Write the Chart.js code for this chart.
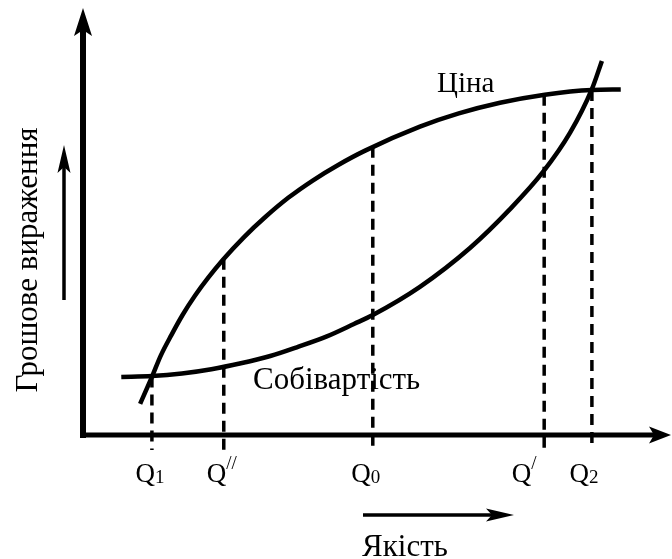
<!DOCTYPE html>
<html>
<head>
<meta charset="utf-8">
<script src="https://cdn.jsdelivr.net/npm/chart.js@4.4.1/dist/chart.umd.min.js"></script>
<style>
  html, body { margin: 0; padding: 0; background: #fff; }
  #wrap { width: 672px; height: 559px; position: relative; }
</style>
</head>
<body>
<div id="wrap"><canvas id="chart"></canvas></div>
<script>
// крива ціни (якість -> грошове вираження)
const priceX = [9.7, 11.7, 13.2, 15.0, 16.9, 19.0, 21.3, 23.8, 27.3, 31.0, 34.9, 39.0, 43.4, 47.9, 57.2, 63.8, 70.8, 78.4, 86.4, 91.3];
const priceY = [7.3, 13.6, 18.6, 23.4, 28.1, 32.6, 36.9, 41.1, 46.3, 51.1, 55.6, 59.6, 63.3, 66.6, 72.2, 75.3, 77.8, 79.7, 80.8, 80.9];

// крива собівартості
const costX = [6.5, 11.7, 16.8, 21.8, 26.8, 31.8, 36.6, 41.4, 46.0, 49.2, 57.2, 65.7, 72.5, 78.1, 82.7, 86.4, 88.1];
const costY = [13.6, 13.8, 14.4, 15.4, 16.8, 18.5, 20.7, 23.1, 26.0, 28.1, 34.7, 43.8, 52.9, 61.6, 70.8, 81.0, 87.6];

// рівні якості
const qX = [11.7, 23.9, 49.2, 78.3, 86.4];
const qTop = [13.7, 41.3, 67.5, 79.7, 80.8];
const qBottom = -3.5;
const qMarks = ['1', '//', '0', '/', '2'];
const qMarkType = ['sub', 'sup', 'sub', 'sup', 'sub'];

const SERIF = '"Liberation Serif", "Times New Roman", serif';

const toPts = (xs, ys) => xs.map((x, i) => ({ x: x, y: ys[i] }));

const curve = (label, xs, ys) => ({
    label: label,
    data: toPts(xs, ys),
    showLine: true,
    borderColor: '#000',
    borderWidth: 4.5,
    pointRadius: 0,
    cubicInterpolationMode: 'monotone',
    clip: false
});

const dashLines = qX.map((x, i) => ({
    label: 'Q' + qMarks[i],
    data: [{ x: x, y: qTop[i] }, { x: x, y: qBottom }],
    showLine: true,
    borderColor: '#000',
    borderWidth: 3.5,
    borderDash: [11, 7],
    pointRadius: 0,
    clip: false
}));

function arrowHead(ctx, tx, ty, dx, dy, len, half, notch) {
    // dx,dy - одиничний вектор напрямку
    const px = -dy, py = dx;
    ctx.beginPath();
    ctx.moveTo(tx, ty);
    ctx.lineTo(tx - dx * len + px * half, ty - dy * len + py * half);
    ctx.lineTo(tx - dx * (len - notch), ty - dy * (len - notch));
    ctx.lineTo(tx - dx * len - px * half, ty - dy * len - py * half);
    ctx.closePath();
    ctx.fill();
}

const decor = {
    id: 'decor',
    beforeDatasetsDraw(chart) {
        const ctx = chart.ctx, a = chart.chartArea;
        const xs = chart.scales.x, ys = chart.scales.y;
        const ox = xs.getPixelForValue(0), oy = ys.getPixelForValue(0);
        ctx.save();
        ctx.fillStyle = '#000';
        ctx.strokeStyle = '#000';
        ctx.lineCap = 'butt';
        // вісь Y
        ctx.lineWidth = 6;
        ctx.beginPath();
        ctx.moveTo(ox, oy + 3);
        ctx.lineTo(ox, a.top + 20);
        ctx.stroke();
        arrowHead(ctx, ox, a.top, 0, -1, 28, 9, 6);
        // вісь X
        ctx.lineWidth = 5;
        ctx.beginPath();
        ctx.moveTo(ox - 3, oy);
        ctx.lineTo(a.right - 15, oy);
        ctx.stroke();
        arrowHead(ctx, a.right - 1, oy, 1, 0, 22, 8.5, 5);
        ctx.restore();
    },
    afterDatasetsDraw(chart) {
        const ctx = chart.ctx;
        const xs = chart.scales.x, ys = chart.scales.y;
        const oy = ys.getPixelForValue(0);
        ctx.save();
        ctx.fillStyle = '#000';
        ctx.strokeStyle = '#000';
        ctx.textBaseline = 'alphabetic';

        // підписи Q
        const qShift = [-2, -2, -7, -20, -8];
        qX.forEach((v, i) => {
            ctx.font = '27px ' + SERIF;
            const wq = ctx.measureText('Q').width;
            ctx.font = '19px ' + SERIF;
            const wm = ctx.measureText(qMarks[i]).width;
            const cx = xs.getPixelForValue(v) + qShift[i];
            const left = cx - (wq + wm) / 2;
            const base = oy + 47;
            ctx.textAlign = 'left';
            ctx.font = '27px ' + SERIF;
            ctx.fillText('Q', left, base);
            ctx.font = '19px ' + SERIF;
            ctx.fillText(qMarks[i], left + wq, qMarkType[i] === 'sub' ? base + 1 : base - 13);
        });

        // назви кривих
        ctx.textAlign = 'left';
        ctx.font = '29px ' + SERIF;
        ctx.fillText('Ціна', 437, 92);
        ctx.font = '31px ' + SERIF;
        ctx.fillText('Собівартість', 253, 389);

        // підпис осі X зі стрілкою
        ctx.textAlign = 'center';
        ctx.fillText('Якість', 405, 556);
        ctx.lineWidth = 3.5;
        ctx.beginPath();
        ctx.moveTo(363, 515);
        ctx.lineTo(495, 515);
        ctx.stroke();
        arrowHead(ctx, 514, 515, 1, 0, 28, 6.5, 6);

        // підпис осі Y зі стрілкою
        ctx.save();
        ctx.translate(29, 260);
        ctx.rotate(-Math.PI / 2);
        ctx.textAlign = 'center';
        ctx.textBaseline = 'middle';
        ctx.fillText('Грошове вираження', 0, 0);
        ctx.restore();
        ctx.lineWidth = 3.5;
        ctx.beginPath();
        ctx.moveTo(64, 300);
        ctx.lineTo(64, 165);
        ctx.stroke();
        arrowHead(ctx, 64, 145, 0, -1, 28, 6.5, 6);

        ctx.restore();
    }
};

new Chart(document.getElementById('chart'), {
    type: 'scatter',
    data: {
        datasets: [
            curve('Ціна', priceX, priceY),
            curve('Собівартість', costX, costY),
            ...dashLines
        ]
    },
    options: {
        responsive: true,
        maintainAspectRatio: false,
        animation: false,
        layout: { padding: { left: 83, right: 0, top: 8, bottom: 124 } },
        scales: {
            x: { type: 'linear', min: 0, max: 100, display: false },
            y: { type: 'linear', min: 0, max: 100, display: false }
        },
        plugins: {
            legend: { display: false },
            tooltip: { enabled: false }
        }
    },
    plugins: [decor]
});
</script>
</body>
</html>
